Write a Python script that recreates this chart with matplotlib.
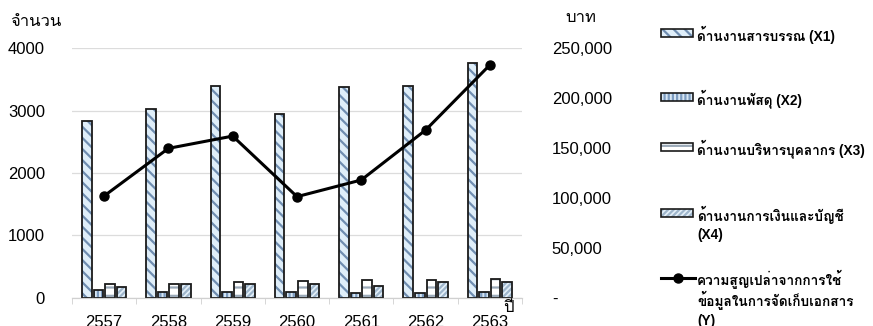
import matplotlib
matplotlib.use("Agg")
import matplotlib.pyplot as plt
from matplotlib.patches import Rectangle
from matplotlib.lines import Line2D
import numpy as np

years = ['2557', '2558', '2559', '2560', '2561', '2562', '2563']
x1 = [2830, 3020, 3400, 2950, 3380, 3390, 3770]
x2 = [118, 96, 86, 86, 75, 75, 86]
x3 = [225, 219, 246, 267, 289, 289, 300]
x4 = [176, 214, 214, 214, 193, 246, 246]
loss = [102000, 149700, 162000, 101300, 118000, 168000, 233300]

labels = ['ด้านงานสารบรรณ (X1)', 'ด้านงานพัสดุ (X2)', 'ด้านงานบริหารบุคลากร (X3)',
          'ด้านงานการเงินและบัญชี\n(X4)', 'ความสูญเปล่าจากการใช้\nข้อมูลในการจัดเก็บเอกสาร\n(Y)']

num_font = ['Liberation Sans', 'Noto Sans Thai']
thai_font = ['Liberation Sans', 'Loma', 'Noto Sans Thai']
plt.rcParams['font.family'] = num_font

fig = plt.figure(figsize=(8.73, 3.26), dpi=100)
ax = fig.add_axes([72 / 873, 1 - 297.7 / 326, 450 / 873, 249.4 / 326])
ax2 = ax.twinx()

pos = np.arange(len(years))
w = 0.15
offs = [-0.27, -0.09, 0.09, 0.27]
styles = [
    dict(color='#dfeef9', hatch='\\\\\\', hc='#6f8db0'),
    dict(color='#d7e7f5', hatch='||||', hc='#7d9cc0'),
    dict(color='white', hatch='--', hc='#9aa9b8'),
    dict(color='#e4f0f9', hatch='//////', hc='#9fb6cc'),
]
plt.rcParams['hatch.linewidth'] = 1.6
for vals, off, st in zip([x1, x2, x3, x4], offs, styles):
    ax.bar(pos + off, vals, w, color=st['color'], hatch=st['hatch'],
           edgecolor=st['hc'], linewidth=0, zorder=2)
    ax.bar(pos + off, vals, w, fill=False, edgecolor='#1a1a1a', linewidth=1.3, zorder=3)

ax2.plot(pos, loss, color='black', linewidth=2.2, marker='o', markersize=6.5, zorder=5)

ax.set_xlim(-0.5, len(years) - 0.5)
ax.set_ylim(0, 4000)
ax2.set_ylim(0, 250000)
ax.set_yticks([0, 1000, 2000, 3000, 4000])
ax2.set_yticks([0, 50000, 100000, 150000, 200000, 250000])
ax2.set_yticklabels(['-', '50,000', '100,000', '150,000', '200,000', '250,000'])
ax.grid(axis='y', color='#dcdcdc', linewidth=0.9, zorder=0)
ax.set_axisbelow(True)

ax.set_xticks(pos)
ax.set_xticklabels(years)
ax.set_xticks(np.arange(-0.5, len(years)), minor=True)
ax.tick_params(axis='x', which='major', length=0, pad=12.5, labelsize=12)
ax.tick_params(axis='x', which='minor', length=4, color='#d0d0d0')
ax.tick_params(axis='y', length=0, pad=19.5, labelsize=12)
ax2.tick_params(axis='y', length=0, pad=21.5, labelsize=12)
for a in (ax, ax2):
    for s in ('top', 'left', 'right'):
        a.spines[s].set_visible(False)
    a.spines['bottom'].set_color('#d0d0d0')

fig.text(10 / 873, 1 - 22 / 326, 'จำนวน', family=thai_font, fontsize=12, va='center')
fig.text(565 / 873, 1 - 18 / 326, 'บาท', family=thai_font, fontsize=12, va='center')
fig.text(503 / 873, 1 - 307 / 326, 'ปี', family=thai_font, fontsize=12, va='center')

# legend drawn by hand so the key sits on the first text line
leg_y = [33, 97, 147, 213, 278]
for i, (lab, y) in enumerate(zip(labels, leg_y)):
    yf = 1 - y / 326
    if i < 4:
        st = styles[i]
        fig.add_artist(Rectangle((661 / 873, yf - 4 / 326), 32 / 873, 8 / 326, transform=fig.transFigure,
                                 facecolor=st['color'], hatch=st['hatch'], edgecolor=st['hc'], linewidth=0))
        fig.add_artist(Rectangle((661 / 873, yf - 4 / 326), 32 / 873, 8 / 326, transform=fig.transFigure,
                                 fill=False, edgecolor='#1a1a1a', linewidth=1.2))
    else:
        fig.add_artist(Line2D([661 / 873, 695 / 873], [yf, yf], transform=fig.transFigure,
                              color='black', linewidth=2.2))
        fig.add_artist(Line2D([678 / 873], [yf], transform=fig.transFigure,
                              color='black', marker='o', markersize=6.5))
    for k, line in enumerate(lab.split('\n')):
        fig.text(697 / 873, yf - k * 20.5 / 326, line, family=thai_font, fontsize=9.8,
                 weight='bold', va='center_baseline')

fig.savefig('out.png', dpi=100)
